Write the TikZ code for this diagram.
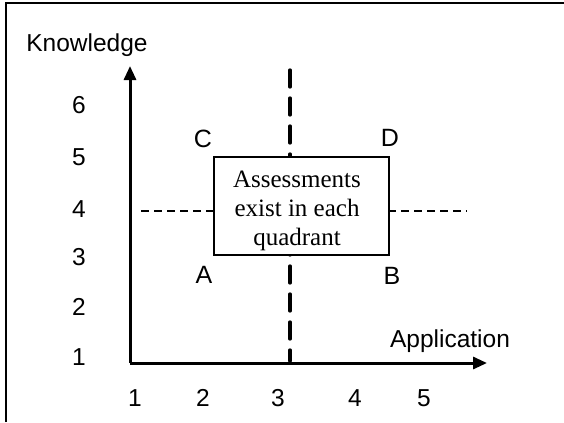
\documentclass[tikz,border=0pt]{standalone}
\usepackage{fontspec}
\setmainfont{Liberation Sans}
\newfontfamily\seriffont{Liberation Serif}
\usetikzlibrary{arrows.meta}
\begin{document}
\begin{tikzpicture}[x=1bp,y=-1bp,
  lbl/.style={inner sep=0pt,font=\fontsize{24.5bp}{28bp}\selectfont},
  axisline/.style={line width=3bp,-{Triangle[length=14bp,width=12bp]}},
  vdash/.style={line width=3.3bp,line cap=round,dash pattern=on 17bp off 11bp},
  hdash/.style={line width=1.3bp,dash pattern=on 8bp off 5bp},
  frameline/.style={line width=2bp},
  boxnode/.style={draw,line width=1.5bp,fill=white,minimum width=175bp,minimum height=98bp,inner sep=0pt},
  boxtext/.style={inner sep=0pt,align=center,font=\seriffont\fontsize{25bp}{29bp}\selectfont}]
\useasboundingbox (0,0) rectangle (564,422);
% frame
\coordinate (f1) at (6,422);
\coordinate (f2) at (6,3);
\coordinate (f3) at (564,3);
\draw[frameline] (f1) -- (f2) -- (f3);
% axes
\coordinate (o) at (130,363);
\coordinate (ytop) at (130,66);
\coordinate (xend) at (487,363);
% dashed lines
\coordinate (vt) at (290,70);
\coordinate (vb) at (290,361);
\coordinate (hl) at (141,211);
\coordinate (hr) at (467,211);
\draw[vdash] (vt) -- (vb);
\draw[hdash] (hl) -- (hr);
\draw[axisline] (o) -- (ytop);
\draw[axisline] (o) -- (xend);
% box
\node[boxnode] (box) at (301.5,206) {};
\node[boxtext] (btext) at (297,211) {Assessments\\exist in each\\quadrant};
% axis titles
\node[lbl] (kn) at (87,45) {Knowledge};
\node[lbl] (ap) at (450,341) {Application};
% y ticks
\node[lbl] (y6) at (79,105) {6};
\node[lbl] (y5) at (79,157) {5};
\node[lbl] (y4) at (79,209) {4};
\node[lbl] (y3) at (79,257) {3};
\node[lbl] (y2) at (79,307) {2};
\node[lbl] (y1) at (79,357) {1};
% x ticks
\node[lbl] (x1) at (135,398) {1};
\node[lbl] (x2) at (203,398) {2};
\node[lbl] (x3) at (278,398) {3};
\node[lbl] (x4) at (355,398) {4};
\node[lbl] (x5) at (424,398) {5};
% quadrant letters
\node[lbl,font=\fontsize{25bp}{29bp}\selectfont] (qC) at (203,139) {C};
\node[lbl,font=\fontsize{25bp}{29bp}\selectfont] (qD) at (390,138) {D};
\node[lbl,font=\fontsize{25bp}{29bp}\selectfont] (qA) at (204,275) {A};
\node[lbl,font=\fontsize{25bp}{29bp}\selectfont] (qB) at (392,276) {B};
\end{tikzpicture}
\end{document}
